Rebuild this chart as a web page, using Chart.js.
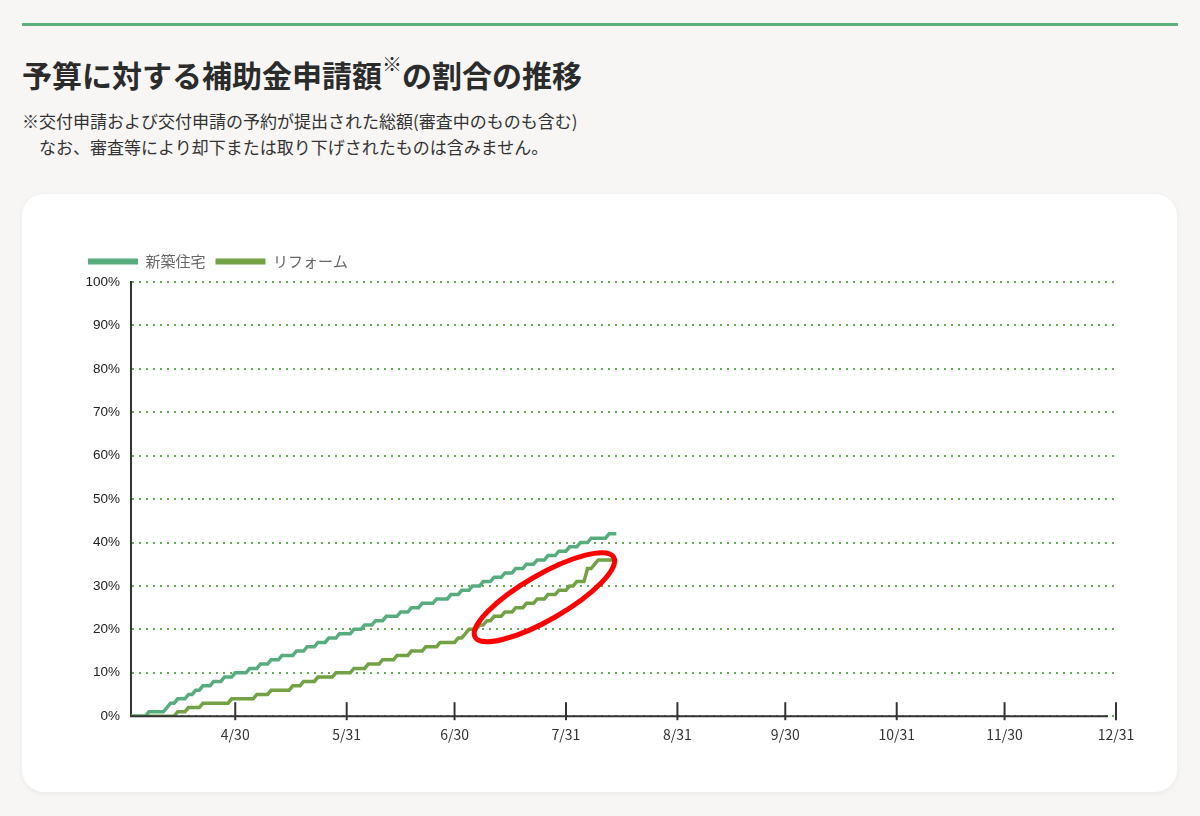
<!DOCTYPE html>
<html lang="ja">
<head>
<meta charset="utf-8">
<title>予算に対する補助金申請額の割合の推移</title>
<script src="https://cdn.jsdelivr.net/npm/chart.js@4.4.1/dist/chart.umd.min.js"></script>
<style>
  html, body { margin: 0; padding: 0; }
  body {
    width: 1200px; height: 816px; position: relative; overflow: hidden;
    background: #f7f6f4; color: #333;
    font-family: "Noto Sans CJK JP", "Noto Sans", sans-serif;
  }
  .rule { position: absolute; left: 22px; top: 23px; width: 1156px; height: 3px; background: #5cb07e; }
  h1 { position: absolute; left: 22px; top: 54px; margin: 0; font-size: 30px; line-height: 40px; font-weight: 700; color: #2b2b2b; }
  h1 sup { font-size: 20px; line-height: 0; position: relative; top: -4px; }
  .note { position: absolute; left: 22px; top: 108px; margin: 0; font-size: 17px; line-height: 26px; color: #333; }
  .card {
    position: absolute; left: 22px; top: 194px; width: 1155px; height: 598px;
    background: #fff; border-radius: 22px; box-shadow: 0 2px 6px rgba(0, 0, 0, 0.05);
  }
  #chart { position: absolute; left: 0; top: 0; }
</style>
</head>
<body>
<div class="rule"></div>
<h1>予算に対する補助金申請額<sup>※</sup>の割合の推移</h1>
<p class="note">※交付申請および交付申請の予約が提出された総額(審査中のものも含む)<br>　なお、審査等により却下または取り下げされたものは含みません。</p>
<div class="card"><canvas id="chart" width="1155" height="598"></canvas></div>

<script>
// days counted from 4/1 (day 0)
const tickDays = [29, 60, 90, 121, 152, 182, 213, 243, 274];
const tickLabels = ["4/30", "5/31", "6/30", "7/31", "8/31", "9/30", "10/31", "11/30", "12/31"];
const seriesNames = ["新築住宅", "リフォーム"];

// daily share of budget (%), day 0 .. 135
const newHomes = [
  0, 0, 0, 0, 0, 1, 1, 1, 1, 1, 2, 3, 3, 4, 4, 4, 5, 5, 6, 6,
  7, 7, 7, 8, 8, 8, 9, 9, 9, 10, 10, 10, 10, 11, 11, 11, 12, 12, 12, 13,
  13, 13, 14, 14, 14, 14, 15, 15, 15, 16, 16, 16, 17, 17, 17, 18, 18, 18, 19, 19,
  19, 19, 20, 20, 20, 21, 21, 21, 22, 22, 22, 23, 23, 23, 23, 24, 24, 24, 25, 25,
  25, 26, 26, 26, 26, 27, 27, 27, 27, 28, 28, 28, 29, 29, 29, 30, 30, 30, 31, 31,
  31, 32, 32, 32, 33, 33, 33, 34, 34, 34, 35, 35, 35, 36, 36, 36, 37, 37, 37, 38,
  38, 38, 39, 39, 39, 40, 40, 40, 41, 41, 41, 41, 41, 42, 42, 42
];

// day 0 .. 134
const reform = [
  0, 0, 0, 0, 0, 0, 0, 0, 0, 0, 0, 0, 0, 1, 1, 1, 2, 2, 2, 2,
  3, 3, 3, 3, 3, 3, 3, 3, 4, 4, 4, 4, 4, 4, 4, 5, 5, 5, 5, 6,
  6, 6, 6, 6, 6, 7, 7, 7, 8, 8, 8, 8, 9, 9, 9, 9, 9, 10, 10, 10,
  10, 10, 11, 11, 11, 11, 12, 12, 12, 12, 13, 13, 13, 13, 14, 14, 14, 14, 15, 15,
  15, 15, 16, 16, 16, 16, 17, 17, 17, 17, 17, 18, 18, 19, 20, 20, 20, 21, 21, 22,
  22, 23, 23, 23, 24, 24, 24, 25, 25, 25, 26, 26, 26, 27, 27, 27, 28, 28, 28, 29,
  29, 29, 30, 30, 31, 31, 31, 34, 34, 35, 36, 36, 36, 36, 36
];

// where the red highlight ring sits (day, %)
const ringCenter = [115, 27.4];

const FONT_JP = "'Noto Sans CJK JP', 'Noto Sans', sans-serif";
const FONT_NUM = "'Liberation Sans', Arial, sans-serif";

const toPoints = (arr) => arr.map((v, i) => ({ x: i, y: v }));

const extras = {
  id: "extras",
  beforeInit(chart) {
    // a little more room under the legend
    const fit = chart.legend.fit;
    chart.legend.fit = function () {
      fit.call(this);
      this.height += 3;
    };
  },
  afterDraw(chart) {
    const { ctx, scales: { x, y } } = chart;
    ctx.save();
    ctx.strokeStyle = "#333";
    ctx.lineWidth = 2;
    // axis line stops a bit short of the last tick
    ctx.beginPath();
    ctx.moveTo(x.left - 1, y.bottom);
    ctx.lineTo(x.right - 8, y.bottom);
    ctx.stroke();
    // tick marks cross the axis line
    tickDays.forEach((d) => {
      const px = x.getPixelForValue(d);
      ctx.beginPath();
      ctx.moveTo(px, y.bottom - 14);
      ctx.lineTo(px, y.bottom + 4);
      ctx.stroke();
    });
    // red ring around the reform jump
    ctx.strokeStyle = "#ff0000";
    ctx.lineWidth = 5;
    ctx.beginPath();
    ctx.ellipse(
      x.getPixelForValue(ringCenter[0]),
      y.getPixelForValue(ringCenter[1]),
      80, 22.5, -Math.PI / 6, 0, Math.PI * 2
    );
    ctx.stroke();
    ctx.restore();
  },
};

const chart = new Chart(document.getElementById("chart"), {
  type: "line",
  data: {
    datasets: [
      {
        label: seriesNames[0],
        data: toPoints(newHomes),
        borderColor: "#58ad7e",
        backgroundColor: "#58ad7e",
        borderWidth: 3.5,
        pointRadius: 0,
        tension: 0,
        fill: false,
      },
      {
        label: seriesNames[1],
        data: toPoints(reform),
        borderColor: "#72a244",
        backgroundColor: "#72a244",
        borderWidth: 3.5,
        pointRadius: 0,
        tension: 0,
        fill: false,
      },
    ],
  },
  options: {
    responsive: false,
    animation: false,
    layout: { padding: { top: 50, left: 56, right: 61, bottom: 43 } },
    plugins: {
      legend: {
        position: "top",
        align: "start",
        labels: {
          boxWidth: 50,
          boxHeight: 6,
          padding: 10,
          color: "#666",
          font: { family: FONT_JP, size: 15 },
          generateLabels: (c) =>
            Chart.defaults.plugins.legend.labels
              .generateLabels(c)
              .map((l) => ({ ...l, lineWidth: 0 })),
        },
      },
      tooltip: { enabled: false },
    },
    scales: {
      x: {
        type: "linear",
        min: 0,
        max: 274,
        afterBuildTicks: (s) => {
          s.ticks = tickDays.map((v) => ({ value: v }));
        },
        ticks: {
          autoSkip: false,
          maxRotation: 0,
          padding: 6,
          color: "#333",
          font: { family: FONT_JP, size: 14 },
          callback: (v) => tickLabels[tickDays.indexOf(v)],
        },
        grid: { drawOnChartArea: false, display: true, color: "rgba(0,0,0,0)", tickLength: 4 },
        border: { display: false },
      },
      y: {
        min: 0,
        max: 100,
        afterFit: (s) => {
          s.width = 53;
        },
        ticks: {
          stepSize: 10,
          padding: 11,
          color: "#222",
          font: { family: FONT_NUM, size: 13.5 },
          callback: (v) => v + "%",
        },
        grid: { color: "#67a852", lineWidth: 2, drawTicks: false },
        border: { color: "#333", width: 2, dash: [2, 5] },
      },
    },
  },
  plugins: [extras],
});
</script>
</body>
</html>
